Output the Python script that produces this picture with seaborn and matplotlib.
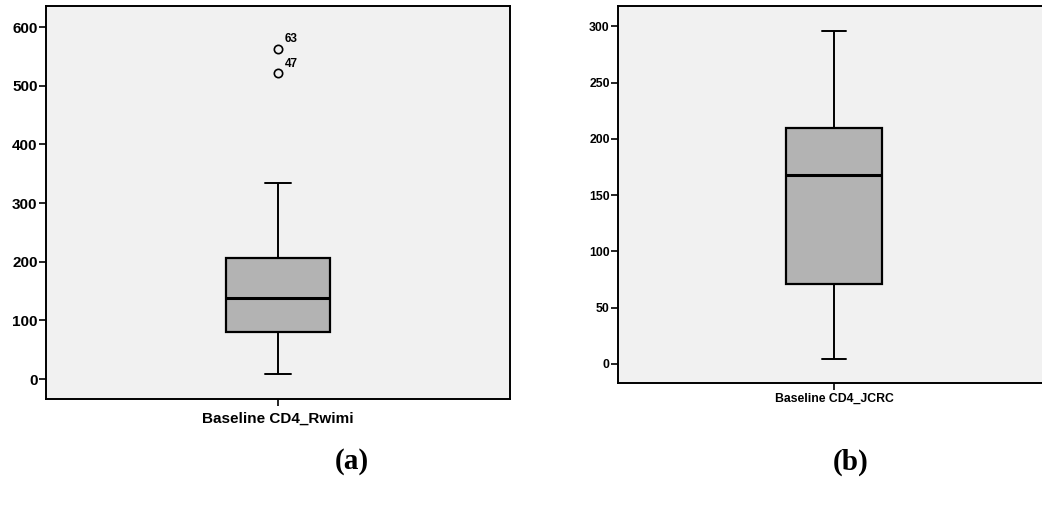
import matplotlib

matplotlib.use("Agg")

import matplotlib.pyplot as plt
import pandas as pd
import seaborn as sns

# sample values chosen to reproduce the box statistics
cd4_rwimi = [8, 40, 62, 80, 100, 121, 138, 160, 185, 206, 334, 521, 562]
rwimi_outlier_ids = {521: "47", 562: "63"}
cd4_jcrc = [4, 35, 71, 120, 168, 190, 210, 250, 296]

label_a = "Baseline CD4_Rwimi"
label_b = "Baseline CD4_JCRC"
ticks_a = [0, 100, 200, 300, 400, 500, 600]
ticks_b = [0, 50, 100, 150, 200, 250, 300]

sns.set_theme(style="white")
plt.rcParams["font.family"] = ["Liberation Sans", "DejaVu Sans"]
plt.rcParams["text.color"] = "black"

BG = "#f1f1f1"
BOX = "#b3b3b3"

fig = plt.figure(figsize=(10.42, 5.15), dpi=100)
ax_a = fig.add_axes([0.0441, 0.2252, 0.4453, 0.7631])
ax_b = fig.add_axes([0.5931, 0.2563, 0.4146, 0.7320])


def draw_box(ax, values, label, ticks, ylim, fontsize, xpad):
    df = pd.DataFrame({"var": label, "value": values})
    sns.boxplot(
        df,
        x="var",
        y="value",
        width=0.224,
        color=BOX,
        linecolor="black",
        linewidth=1.4,
        fliersize=6,
        flierprops=dict(marker="o", markerfacecolor="none",
                        markeredgecolor="black", markeredgewidth=1.2),
        medianprops=dict(color="black", linewidth=2.2),
        boxprops=dict(facecolor=BOX, edgecolor="black", linewidth=1.6),
        ax=ax,
    )
    # seaborn caps are half the box width; the reference caps are narrower
    for line in ax.lines:
        xs = line.get_xdata()
        if len(xs) == 2 and xs[0] != xs[1]:
            ys = line.get_ydata()
            if ys[0] == ys[1] and abs(xs[1] - xs[0]) < 0.2:
                c = (xs[0] + xs[1]) / 2
                line.set_xdata([c - 0.028, c + 0.028])
    ax.set_facecolor(BG)
    ax.set_xlim(-0.5, 0.5)
    ax.set_ylim(*ylim)
    ax.set_yticks(ticks)
    ax.set_xlabel("")
    ax.set_ylabel("")
    for s in ax.spines.values():
        s.set_color("black")
        s.set_linewidth(1.4)
    ax.tick_params(axis="both", direction="out", length=5, width=1.2,
                   color="black", left=True, bottom=True, pad=1)
    ax.tick_params(axis="x", pad=xpad)
    for t in ax.get_yticklabels() + ax.get_xticklabels():
        t.set_fontweight("bold")
        t.set_fontsize(fontsize)
        t.set_color("black")


draw_box(ax_a, cd4_rwimi, label_a, ticks_a, (-34, 636), 11, 4)
draw_box(ax_b, cd4_jcrc, label_b, ticks_b, (-17, 318), 8.8, 2)

for value, case_id in rwimi_outlier_ids.items():
    ax_a.annotate(case_id, (0, value), xytext=(5, 5), textcoords="offset points",
                  fontsize=8.5, fontweight="bold", color="black")

fig.text(0.338, 0.103, "(a)", ha="center", va="center", fontsize=21,
         fontweight="bold", family="Liberation Serif", color="black")
fig.text(0.816, 0.103, "(b)", ha="center", va="center", fontsize=21,
         fontweight="bold", family="Liberation Serif", color="black")

fig.savefig("out.png", dpi=100)
plt.close(fig)
